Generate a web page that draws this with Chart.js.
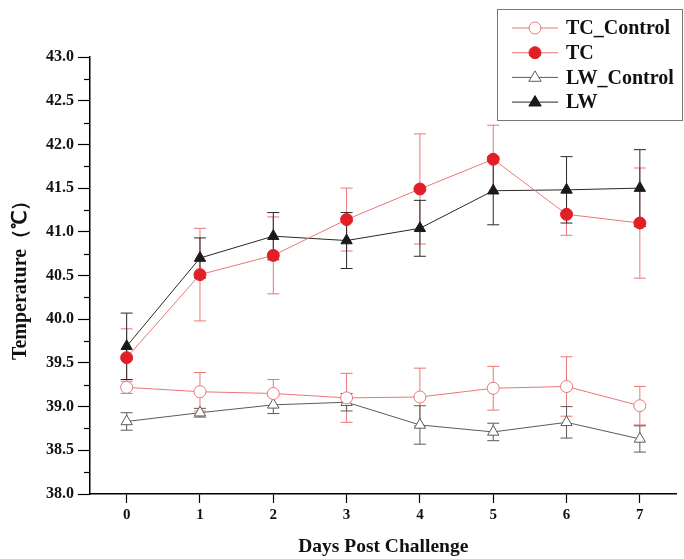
<!DOCTYPE html>
<html>
<head>
<meta charset="utf-8">
<script src="https://cdn.jsdelivr.net/npm/chart.js@4/dist/chart.umd.min.js"></script>
<style>
  body { margin: 0; background: #fff; }
  canvas { display: block; }
</style>
</head>
<body>
<canvas id="temp-chart" width="684" height="559"></canvas>
<script>
const days = ['0', '1', '2', '3', '4', '5', '6', '7'];

const tcControl = [39.22, 39.17, 39.15, 39.10, 39.11, 39.21, 39.23, 39.01];
const tcControlErr = [0.07, 0.22, 0.16, 0.28, 0.33, 0.25, 0.34, 0.22];

const tc = [39.56, 40.51, 40.73, 41.14, 41.49, 41.83, 41.20, 41.10];
const tcErr = [0.33, 0.53, 0.44, 0.36, 0.63, 0.39, 0.24, 0.63];

const lwControl = [38.83, 38.93, 39.02, 39.05, 38.79, 38.71, 38.82, 38.63];
const lwControlErr = [0.10, 0.05, 0.10, 0.10, 0.22, 0.10, 0.18, 0.15];

const lw = [39.69, 40.70, 40.95, 40.90, 41.04, 41.47, 41.48, 41.50];
const lwErr = [0.38, 0.23, 0.27, 0.32, 0.32, 0.39, 0.38, 0.44];

const serif = '"Liberation Serif", "Times New Roman", serif';
const red = 'rgb(236, 118, 118)';
const redFill = 'rgb(226, 30, 38)';
const dark = 'rgb(40, 40, 40)';
const grey = 'rgb(90, 90, 90)';

// error bars, drawn behind the markers
const errorBars = {
  id: 'errorBars',
  beforeDatasetsDraw(chart) {
    const { ctx, scales: { x, y } } = chart;
    ctx.save();
    chart.data.datasets.forEach((ds) => {
      ctx.strokeStyle = ds.errColor;
      ctx.lineWidth = 1;
      ds.data.forEach((v, i) => {
        const px = x.getPixelForValue(i);
        const top = y.getPixelForValue(v + ds.err[i]);
        const bot = y.getPixelForValue(v - ds.err[i]);
        ctx.beginPath();
        ctx.moveTo(px, top); ctx.lineTo(px, bot);
        ctx.moveTo(px - 6, top); ctx.lineTo(px + 6, top);
        ctx.moveTo(px - 6, bot); ctx.lineTo(px + 6, bot);
        ctx.stroke();
      });
    });
    ctx.restore();
  }
};

// minor ticks on the y axis
const minorTicks = {
  id: 'minorTicks',
  afterDraw(chart) {
    const { ctx, scales: { y } } = chart;
    ctx.save();
    ctx.strokeStyle = '#000';
    ctx.lineWidth = 1.2;
    for (let v = 38.25; v < 43; v += 0.5) {
      const py = Math.round(y.getPixelForValue(v)) + 0.5;
      ctx.beginPath();
      ctx.moveTo(y.right - 6, py);
      ctx.lineTo(y.right, py);
      ctx.stroke();
    }
    ctx.restore();
  }
};

// boxed legend with line + marker samples
const boxLegend = {
  id: 'boxLegend',
  afterDraw(chart) {
    const { ctx } = chart;
    const x0 = 497, y0 = 9, w = 185, h = 111;
    ctx.save();
    ctx.strokeStyle = '#777';
    ctx.lineWidth = 1;
    ctx.strokeRect(x0 + 0.5, y0 + 0.5, w, h);
    ctx.font = 'bold 20px ' + serif;
    ctx.textBaseline = 'middle';
    chart.data.datasets.forEach((ds, i) => {
      const ry = 28 + i * 24.7;
      const r = ds.pointRadius;
      ctx.strokeStyle = ds.borderColor;
      ctx.lineWidth = 1;
      ctx.beginPath();
      ctx.moveTo(512, ry); ctx.lineTo(558, ry);
      ctx.stroke();
      ctx.fillStyle = ds.pointBackgroundColor;
      ctx.strokeStyle = ds.pointBorderColor;
      ctx.beginPath();
      if (ds.pointStyle === 'circle') {
        ctx.arc(535, ry, r, 0, Math.PI * 2);
      } else {
        ctx.moveTo(535, ry - r);
        ctx.lineTo(535 + r * 0.95, ry + r * 0.6);
        ctx.lineTo(535 - r * 0.95, ry + r * 0.6);
        ctx.closePath();
      }
      ctx.fill();
      ctx.stroke();
      ctx.fillStyle = '#111';
      ctx.fillText(ds.label, 566, ry + 1);
    });
    ctx.restore();
  }
};

new Chart(document.getElementById('temp-chart'), {
  type: 'line',
  data: {
    labels: days,
    datasets: [
      {
        label: 'TC_Control',
        data: tcControl,
        err: tcControlErr,
        errColor: red,
        borderColor: red,
        borderWidth: 1,
        pointStyle: 'circle',
        pointRadius: 6,
        pointBackgroundColor: '#fff',
        pointBorderColor: red,
        pointBorderWidth: 1
      },
      {
        label: 'TC',
        data: tc,
        err: tcErr,
        errColor: red,
        borderColor: red,
        borderWidth: 1,
        pointStyle: 'circle',
        pointRadius: 6,
        pointBackgroundColor: redFill,
        pointBorderColor: redFill,
        pointBorderWidth: 1
      },
      {
        label: 'LW_Control',
        data: lwControl,
        err: lwControlErr,
        errColor: grey,
        borderColor: grey,
        borderWidth: 1,
        pointStyle: 'triangle',
        pointRadius: 6.5,
        pointBackgroundColor: '#fff',
        pointBorderColor: grey,
        pointBorderWidth: 1
      },
      {
        label: 'LW',
        data: lw,
        err: lwErr,
        errColor: dark,
        borderColor: dark,
        borderWidth: 1,
        pointStyle: 'triangle',
        pointRadius: 6.5,
        pointBackgroundColor: '#1a1a1a',
        pointBorderColor: '#1a1a1a',
        pointBorderWidth: 1
      }
    ]
  },
  options: {
    responsive: false,
    animation: false,
    layout: { padding: { top: 57, right: 2, left: 0, bottom: 0 } },
    plugins: {
      legend: { display: false },
      tooltip: { enabled: false }
    },
    scales: {
      x: {
        type: 'category',
        offset: true,
        afterFit: (s) => { s.height = 65; },
        grid: { offset: false, drawOnChartArea: false, tickLength: 9, tickColor: '#000', tickWidth: 1.2 },
        border: { color: '#000', width: 1.5 },
        ticks: { padding: 3, color: '#111', font: { family: serif, size: 15, weight: 'bold' } },
        title: {
          display: true,
          text: 'Days Post Challenge',
          color: '#111',
          padding: { top: 0, bottom: 0 },
          font: { family: serif, size: 19.5, weight: 'bold' }
        }
      },
      y: {
        min: 38,
        max: 43,
        afterFit: (s) => { s.width = 90; },
        grid: { drawOnChartArea: false, tickLength: 12, tickColor: '#000', tickWidth: 1.2 },
        border: { color: '#000', width: 1.5 },
        ticks: {
          stepSize: 0.5,
          padding: 4,
          color: '#111',
          font: { family: serif, size: 16, weight: 'bold' },
          callback: (v) => v.toFixed(1)
        },
        title: {
          display: true,
          text: 'Temperature（℃）',
          color: '#111',
          padding: { top: 9, bottom: 0 },
          font: { family: serif, size: 20, weight: 'bold' }
        }
      }
    }
  },
  plugins: [errorBars, minorTicks, boxLegend]
});
</script>
</body>
</html>
